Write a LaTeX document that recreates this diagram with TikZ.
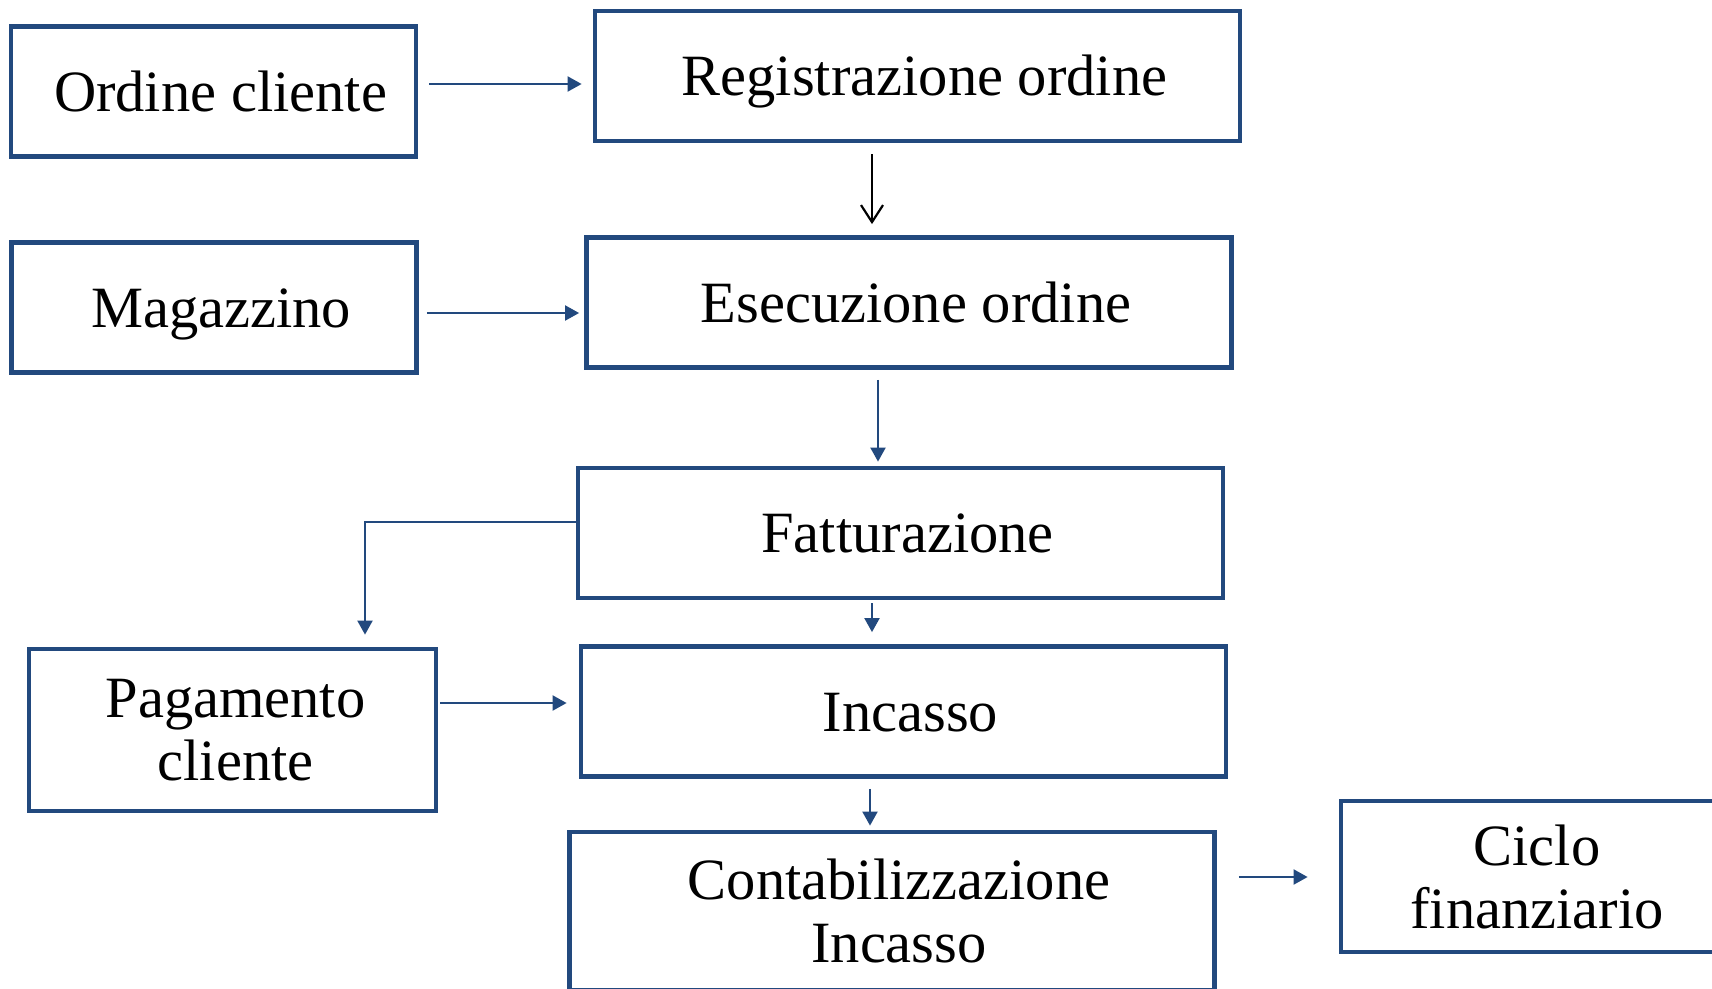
\documentclass[tikz,border=0pt]{standalone}
\usepackage{fontspec}
\setmainfont{Liberation Serif}
\usetikzlibrary{arrows.meta}
\definecolor{boxblue}{HTML}{22497E}

\begin{document}
\begin{tikzpicture}[x=1pt, y=-1pt,
    font=\fontsize{58.5}{63}\selectfont,
    box/.style={draw=boxblue, line width=4.8pt, inner sep=0pt, minimum height=130pt},
    twoline/.style={box, align=center},
    oneline/.style={box, text height=39pt, text depth=0pt, execute at begin node={\hspace*{14pt}}},
    small/.style={oneline, minimum width=405pt},
    large/.style={oneline, minimum width=645pt},
    link/.style={draw=boxblue, line width=2pt, -{Triangle[length=14pt,width=15pt]}}]
  \fill[white] (0,0) rectangle (1712,988);
  \useasboundingbox (0,0) rectangle (1712,988);

  % left column
  \node[small] (ordine) at (213.5,91.5) {Ordine cliente};
  \node[small] (magazzino) at (214,307.5) {Magazzino};
  \node[twoline, minimum width=407pt, minimum height=162pt] (pagamento) at (232.5,730) {\hspace*{6pt}Pagamento\\\hspace*{6pt}cliente};

  % main column
  \node[large] (registrazione) at (917.5,76) {Registrazione ordine};
  \node[large] (esecuzione) at (909,302.5) {Esecuzione ordine};
  \node[large] (fatturazione) at (900.5,533) {Fatturazione};
  \node[large] (incasso) at (903.5,711.5) {Incasso};
  \node[twoline, minimum width=645pt, minimum height=158pt] (contab) at (892,911) {\hspace*{14pt}Contabilizzazione\\\hspace*{14pt}Incasso};

  \node[twoline, minimum width=392pt, minimum height=151pt] (ciclo) at (1537,876.5) {Ciclo\\finanziario};

  % connectors
  \draw[link, shorten <=11pt, shorten >=11pt] ([yshift=7.5pt]ordine.east) -- ([yshift=-8pt]registrazione.west);
  \draw[link, shorten <=8pt, shorten >=5pt] ([yshift=-5.5pt]magazzino.east) -- ([yshift=-10.5pt]esecuzione.west);
  \draw[black, line width=2.2pt, -{Straight Barb[length=17pt,width=22pt]}, shorten <=11pt, shorten >=11pt]
    ([xshift=-45.5pt]registrazione.south) -- ([xshift=-37pt]esecuzione.north);
  \draw[link, shorten <=10pt, shorten >=4pt] ([xshift=-31pt]esecuzione.south) -- ([xshift=-22.5pt]fatturazione.north);
  \draw[link, shorten >=12pt] ([yshift=11pt]fatturazione.west) -| ([xshift=132.5pt]pagamento.north);
  \draw[link, shorten <=3pt, shorten >=12pt] ([xshift=-28.5pt]fatturazione.south) -- ([xshift=-31.5pt]incasso.north);
  \draw[link, shorten <=2pt, shorten >=12pt] ([yshift=27pt]pagamento.east) -- ([yshift=8.5pt]incasso.west);
  \draw[link, shorten <=10pt, shorten >=4pt] ([xshift=-33.5pt]incasso.south) -- ([xshift=-22pt]contab.north);
  \draw[link, shorten <=22pt, shorten >=31pt] ([yshift=34pt]contab.east) -- ([yshift=-0.5pt]ciclo.west);
\end{tikzpicture}
\end{document}
